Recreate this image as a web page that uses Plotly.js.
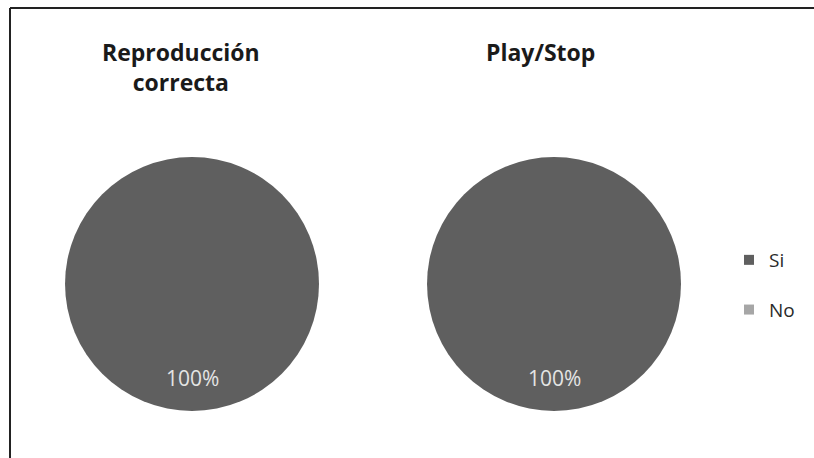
<!DOCTYPE html>
<html>
<head>
<meta charset="utf-8">
<script src="https://cdn.plot.ly/plotly-3.0.1.min.js"></script>
<style>html,body{margin:0;padding:0;background:#fff;}#chart{width:814px;height:458px;}</style>
</head>
<body>
<div id="chart"></div>
<script>
const categories = ["Si", "No"];
const chartTitles = ["Reproducción<br>correcta", "Play/Stop"];
const reproduccionValues = [100, 0];
const playStopValues = [100, 0];
const colors = ["#5f5f5f", "#a6a6a6"];

const FONT = "'Open Sans', Lato, sans-serif";

function pieTrace(values, domainX) {
  return {
    type: "pie",
    labels: categories,
    values: values,
    sort: false,
    direction: "clockwise",
    marker: { colors: colors, line: { width: 0 } },
    textinfo: "none",
    hoverinfo: "label+percent",
    showlegend: false,
    domain: { x: domainX, y: [0.1026, 0.6572] }
  };
}

const domains = [[0.0799, 0.3919], [0.5246, 0.8366]];
const dataSets = [reproduccionValues, playStopValues];

const traces = [
  pieTrace(reproduccionValues, domains[0]),
  pieTrace(playStopValues, domains[1])
];

// Legend entries
categories.forEach((c, i) => {
  traces.push({
    type: "scatter", mode: "markers", x: [null], y: [null],
    name: c, legendgroup: "g" + i,
    marker: { symbol: "square", size: 10, color: colors[i] },
    hoverinfo: "skip"
  });
});

// Percent labels, computed from data
const annotations = [];
dataSets.forEach((vals, k) => {
  const total = vals.reduce((a, b) => a + b, 0);
  const pct = Math.round(vals[0] / total * 100) + "%";
  const cx = (domains[k][0] + domains[k][1]) / 2;
  annotations.push({
    xref: "paper", yref: "paper", x: cx, y: 1 - 378 / 458,
    xanchor: "center", yanchor: "middle", showarrow: false,
    text: pct, font: { family: FONT, size: 21, color: "#e4e4e4" }
  });
});
annotations.push({
  xref: "paper", yref: "paper", x: 181 / 814, y: 1 - 67 / 458,
  xanchor: "center", yanchor: "middle", showarrow: false,
  text: chartTitles[0], font: { family: FONT, size: 23, color: "#1a1a1a", weight: "bold" }
});
annotations.push({
  xref: "paper", yref: "paper", x: 540 / 814, y: 1 - 52 / 458,
  xanchor: "center", yanchor: "middle", showarrow: false,
  text: chartTitles[1], font: { family: FONT, size: 23, color: "#1a1a1a", weight: "bold" }
});

const layout = {
  width: 814, height: 458,
  margin: { l: 0, r: 0, t: 0, b: 0 },
  paper_bgcolor: "#ffffff", plot_bgcolor: "#ffffff",
  xaxis: { visible: false }, yaxis: { visible: false },
  showlegend: true,
  legend: {
    x: 729 / 814, y: 1 - 285 / 458, xanchor: "left", yanchor: "middle",
    traceorder: "grouped", tracegroupgap: 22,
    font: { family: FONT, size: 19, color: "#2a2a2a" },
    bgcolor: "rgba(0,0,0,0)"
  },
  annotations: annotations,
  shapes: [
    { type: "line", xref: "paper", yref: "paper", x0: 10 / 814, x1: 1, y0: 1 - 8 / 458, y1: 1 - 8 / 458, line: { color: "#222222", width: 2 } },
    { type: "line", xref: "paper", yref: "paper", x0: 10 / 814, x1: 10 / 814, y0: 0, y1: 1 - 8 / 458, line: { color: "#222222", width: 2 } }
  ]
};

Plotly.newPlot("chart", traces, layout, { displayModeBar: false, staticPlot: true });
</script>
</body>
</html>
